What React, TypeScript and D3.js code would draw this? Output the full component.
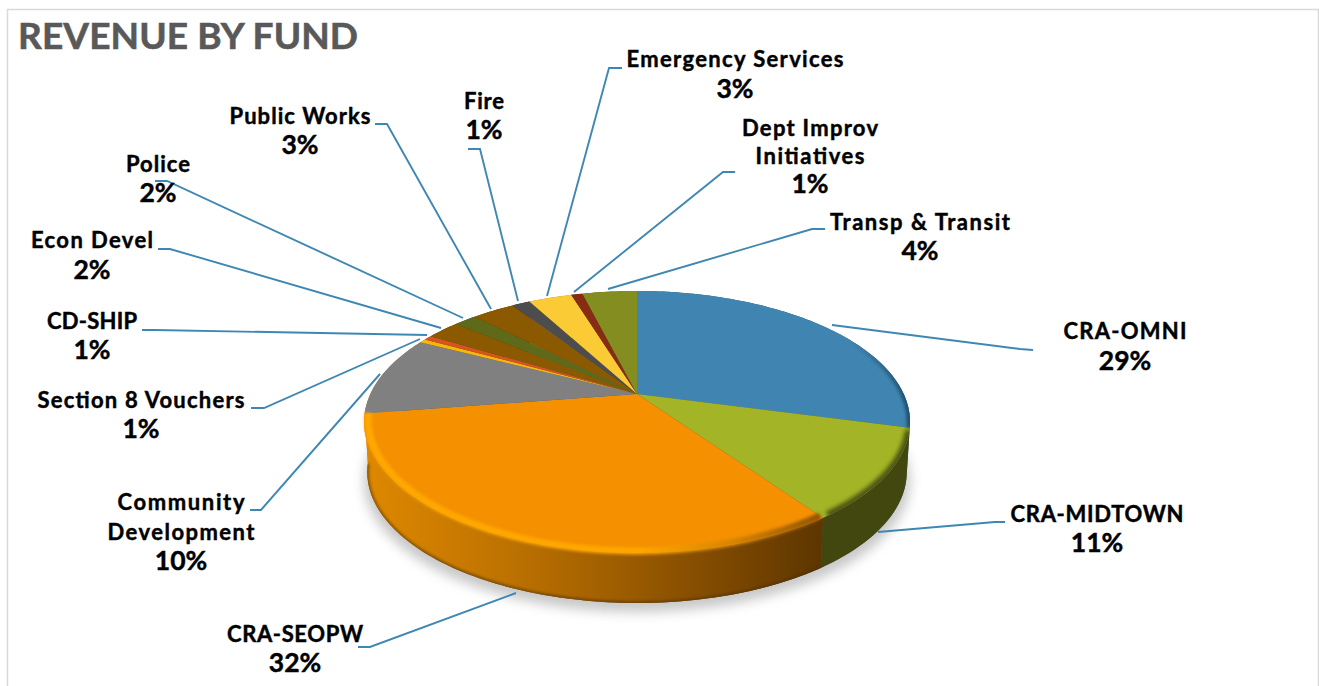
import React from "react";
import * as d3 from "d3";

const funds = ["CRA-OMNI","CRA-MIDTOWN","CRA-SEOPW","Community Development","Section 8 Vouchers","CD-SHIP","Econ Devel","Police","Public Works","Fire","Emergency Services","Dept Improv Initiatives","Transp & Transit"];
const shares = [29.1,11.15,32.35,9.9,0.5,0.6,2.39,1.66,3.1,1.32,3.15,0.83,3.97];
const percentLabels = ["29%","11%","32%","10%","1%","1%","2%","2%","3%","1%","3%","1%","4%"];
const sliceColors = ["#4085b1","#a3b526","#f59000","#808080","#f6b60f","#d8541f","#8b5a00","#5e6a19","#8b5a00","#4d4d4d","#fbcb35","#872c12","#848d20"];
const wallColors = ["#1f506f","#41470f","url(#orangeWall)","url(#orangeWall)","#a87a00","#8a3512","#5a3a00","#3d4510","#5a3a00","#333","#a88420","#5a1d0c","#555c15"];

// Layout of the labels: centre x, one baseline per line of text, measured width of each name line
const labelLayout = [
  { x: 1125, names: ["CRA-OMNI"], w: [123], y: [339, 370] },
  { x: 1097, names: ["CRA-MIDTOWN"], w: [173], y: [522, 552] },
  { x: 295, names: ["CRA-SEOPW"], w: [136], y: [642, 672] },
  { x: 181, names: ["Community", "Development"], w: [127, 147], y: [510, 540, 570] },
  { x: 141, names: ["Section 8 Vouchers"], w: [207], y: [408, 438] },
  { x: 92, names: ["CD-SHIP"], w: [90], y: [329, 359] },
  { x: 92, names: ["Econ Devel"], w: [122], y: [248, 279] },
  { x: 158, names: ["Police"], w: [64], y: [172, 202] },
  { x: 300, names: ["Public Works"], w: [141], y: [124, 154] },
  { x: 484, names: ["Fire"], w: [40], y: [109, 139] },
  { x: 735, names: ["Emergency Services"], w: [217], y: [67, 98] },
  { x: 810, names: ["Dept Improv", "Initiatives"], w: [136, 109], y: [136, 164, 193] },
  { x: 920, names: ["Transp & Transit"], w: [180], y: [230, 260] },
];
const leaderLayout: [number, number][][] = [
  [[1033,350],[1020,349],[832,325]],
  [[1005,522],[995,522],[878,532]],
  [[358,647],[370,647],[516,593]],
  [[250,510],[261,510],[380,374]],
  [[251,408],[264,408],[420,339]],
  [[142,330],[155,330],[427,335]],
  [[158,249],[170,249],[441,328]],
  [[155,181],[167,181],[463,318]],
  [[375,124],[387,124],[491,309]],
  [[468,149],[480,149],[518,301]],
  [[622,68],[609,68],[547,296]],
  [[735,172],[723,172],[574,292]],
  [[825,229],[812,229],[608,289]],
];

const W = 1319, H = 686;
const CX = 637, CY = 394, A = 266.7, B = 125, P = 0.2137, DEPTH = 50;

// Perspective projection of a point on the pie's rim (angle clockwise from 12 o'clock)
const rim = (t: number, drop = 0, shrink = 1): [number, number] => {
  const u = Math.sin(t), v = Math.cos(t), d = 1 + P * v;
  return [CX + (A * shrink * u) / d, CY - (B * v) / d + drop];
};
const samples = (a: number, b: number, drop = 0, shrink = 1) => {
  const n = Math.max(2, Math.ceil(Math.abs(b - a) / 0.02));
  return d3.range(n + 1).map((i) => rim(a + ((b - a) * i) / n, drop, shrink));
};
const line = d3.line<[number, number]>();
const closed = (pts: [number, number][]) => line(pts) + "Z";

const arcs = d3.pie<number>().sort(null).startAngle(0).endAngle(Math.PI * 2)(shares);
const TAU = Math.PI * 2;
const top = closed(samples(0, TAU));
const bottom = closed(samples(0, TAU, DEPTH, 0.988));
const shadow = closed(samples(0, TAU, DEPTH + 9, 1.0));

const FONT = "Lato, 'Open Sans', sans-serif";

export default function App() {
  const orange = arcs[2], green = arcs[1], blue = arcs[0];
  return (
    <svg width={W} height={H} viewBox={`0 0 ${W} ${H}`} style={{ position: "absolute", left: 0, top: 0, background: "#fff" }}>
      <defs>
        <filter id="b6" x="-20%" y="-20%" width="140%" height="140%"><feGaussianBlur stdDeviation="6" /></filter>
        <filter id="b2" x="-20%" y="-20%" width="140%" height="140%"><feGaussianBlur stdDeviation="2" /></filter>
        <filter id="b1" x="-20%" y="-20%" width="140%" height="140%"><feGaussianBlur stdDeviation="1.6" /></filter>
        <linearGradient id="orangeWall" gradientUnits="userSpaceOnUse" x1="368" x2="820" y1="0" y2="0">
          <stop offset="0" stopColor="#de8800" />
          <stop offset="0.35" stopColor="#b96f00" />
          <stop offset="0.7" stopColor="#8a5000" />
          <stop offset="1" stopColor="#5e3600" />
        </linearGradient>
        <linearGradient id="orangeBevel" gradientUnits="userSpaceOnUse" x1="365" x2="822" y1="0" y2="0">
          <stop offset="0" stopColor="#ffa800" />
          <stop offset="0.6" stopColor="#ffa600" />
          <stop offset="0.8" stopColor="#d98500" />
          <stop offset="1" stopColor="#8f5400" />
        </linearGradient>
        <linearGradient id="blueBevel" gradientUnits="userSpaceOnUse" x1="850" x2="910" y1="0" y2="0">
          <stop offset="0" stopColor="#1f506f" stopOpacity="0" />
          <stop offset="1" stopColor="#1f506f" />
        </linearGradient>
        <clipPath id="faceClip"><path d={top} /></clipPath>
        <clipPath id="bottomClip"><path d={bottom} /></clipPath>
      </defs>

      <path d="M7.5 686V9.5H1318.5V686" fill="none" stroke="#d9d9d9" strokeWidth={1.5} />

      <text x={18} y={49} fontFamily={FONT} fontWeight={700} fontSize={37} textLength={340} lengthAdjust="spacing" fill="#595959" stroke="#595959" strokeWidth={0.6}>REVENUE BY FUND</text>

      <path d={shadow} fill="#b0b0b0" opacity={0.7} filter="url(#b6)" />

      <path d={bottom} fill="#555" />
      {arcs.map((a, i) => (
        <path key={funds[i]} d={closed([...samples(a.startAngle, a.endAngle), ...samples(a.endAngle, a.startAngle, DEPTH, 0.988)])} fill={wallColors[i]} />
      ))}
      <g clipPath="url(#bottomClip)">
        <path d={line(samples(orange.startAngle, orange.endAngle, DEPTH, 0.988)) ?? ""} fill="none" stroke="#4f2e00" strokeWidth={3} opacity={0.7} filter="url(#b1)" />
      </g>

      {arcs.map((a, i) => (
        <path key={funds[i]} d={closed([[CX, CY], ...samples(a.startAngle, a.endAngle)])} fill={sliceColors[i]} />
      ))}
      <path d={line(samples(orange.startAngle, orange.endAngle - 0.01, -2, 0.985)) ?? ""} fill="none" stroke="url(#orangeBevel)" strokeWidth={7} filter="url(#b1)" />
      <g clipPath="url(#faceClip)">
        <path d={line(samples(green.startAngle + 0.02, green.endAngle - 0.02)) ?? ""} fill="none" stroke="#4d5412" strokeWidth={9} filter="url(#b2)" />
        <path d={line(samples(blue.startAngle, blue.endAngle)) ?? ""} fill="none" stroke="url(#blueBevel)" strokeWidth={7} filter="url(#b1)" />
      </g>

      {leaderLayout.map((pts, i) => (
        <path key={funds[i]} d={line(pts) ?? ""} fill="none" stroke="#3f87b3" strokeWidth={1.9} />
      ))}

      {labelLayout.map((l, i) => (
        <g key={funds[i]} textAnchor="middle" fontFamily={FONT} fill="#000" stroke="#000" strokeWidth={0.45}>
          {l.names.map((n, j) => (
            <text key={n} x={l.x} y={l.y[j]} fontWeight={700} fontSize={22} textLength={l.w[j]} lengthAdjust="spacing">{n}</text>
          ))}
          <text x={l.x} y={l.y[l.names.length]} fontWeight={700} fontSize={26.5}>{percentLabels[i]}</text>
        </g>
      ))}
    </svg>
  );
}
